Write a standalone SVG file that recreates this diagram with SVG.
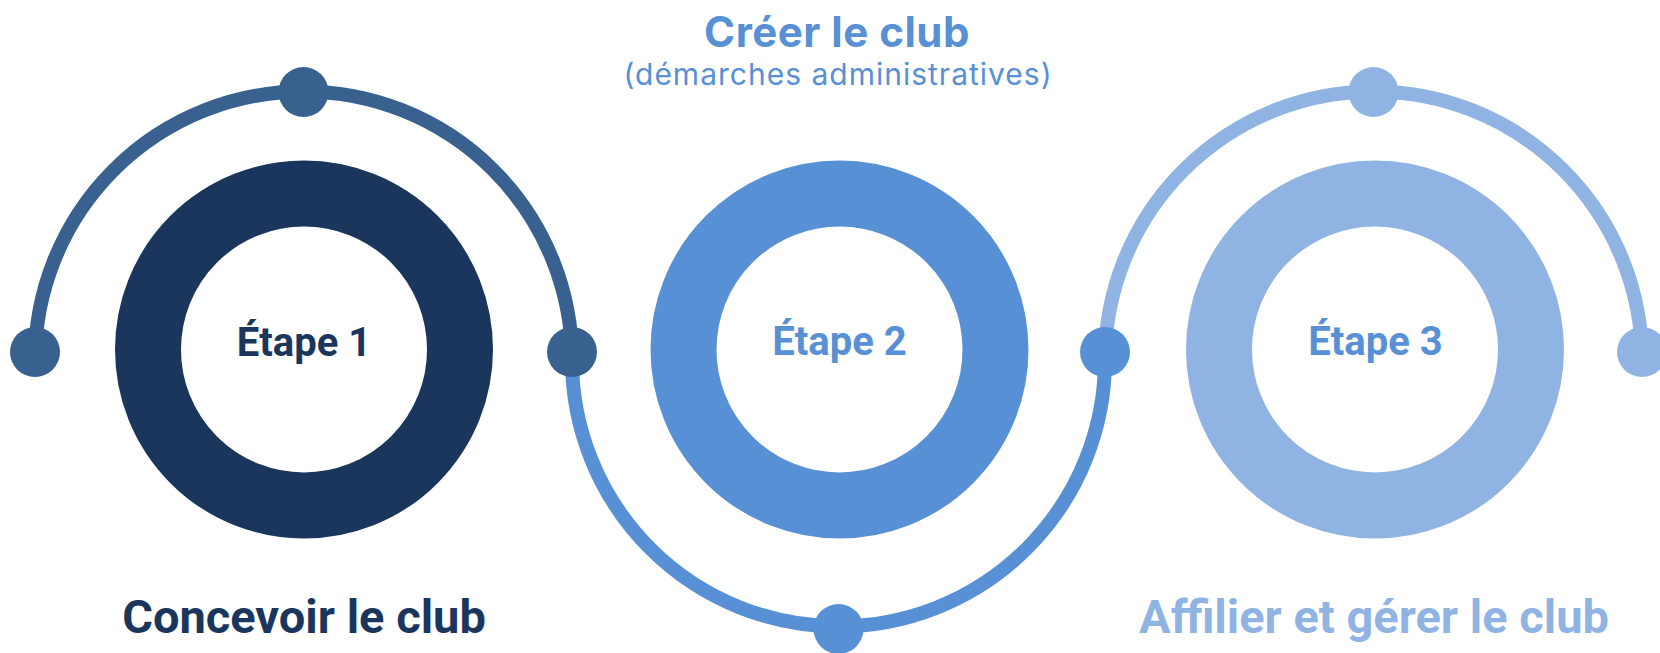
<svg xmlns="http://www.w3.org/2000/svg" width="1660" height="653" viewBox="0 0 1660 653">
<style>
.ring{fill:none;stroke-width:66}
.arc{fill:none;stroke-width:14}
.step{font-family:Roboto,"Liberation Sans",sans-serif;font-weight:700;font-size:40px;text-anchor:middle}
.name{font-family:Roboto,"Liberation Sans",sans-serif;font-weight:700;font-size:47px;text-anchor:middle}
.title{font-family:Inter,"Liberation Sans",sans-serif;font-weight:700;font-size:42px;letter-spacing:0.5px;text-anchor:middle}
.sub{font-family:Inter,"Liberation Sans",sans-serif;font-weight:400;font-size:30px;letter-spacing:1px;text-anchor:middle}
.c1{fill:#1A365D}.c2{fill:#5790D5}.c3{fill:#8FB4E3}
</style>
<rect width="1660" height="653" fill="#FFFFFF"/>
<g id="connectors">
<path class="arc" stroke="#38618F" d="M35,360 A268.5,268.5 0 0 1 572,360"/>
<path class="arc" stroke="#5790D5" d="M572,360 A266.5,266.5 0 0 0 1105,360"/>
<path class="arc" stroke="#8FB4E3" d="M1105,360 A268.5,268.5 0 0 1 1642,360"/>
<circle cx="35" cy="352" r="25" fill="#38618F"/>
<circle cx="303.5" cy="92" r="25" fill="#38618F"/>
<circle cx="572" cy="352" r="25" fill="#38618F"/>
<circle cx="838.5" cy="629" r="25" fill="#5790D5"/>
<circle cx="1105" cy="352" r="25" fill="#5790D5"/>
<circle cx="1373.5" cy="92" r="25" fill="#8FB4E3"/>
<circle cx="1642" cy="352" r="25" fill="#8FB4E3"/>
</g>
<g id="step1">
<circle class="ring" cx="304" cy="349.5" r="156" stroke="#1A365D"/>
<text class="step c1" x="304" y="356">Étape 1</text>
<text class="name c1" x="304" y="633">Concevoir le club</text>
</g>
<g id="step2">
<circle class="ring" cx="839.5" cy="349.5" r="156" stroke="#5790D5"/>
<text class="step c2" x="839.5" y="355">Étape 2</text>
<text class="title c2" x="837" y="46.5">Créer le club</text>
<text class="sub c2" x="838" y="85">(démarches administratives)</text>
</g>
<g id="step3">
<circle class="ring" cx="1375" cy="349.5" r="156" stroke="#8FB4E3"/>
<text class="step c2" x="1375.5" y="355">Étape 3</text>
<text class="name c3" x="1374" y="633">Affilier et gérer le club</text>
</g>
</svg>
